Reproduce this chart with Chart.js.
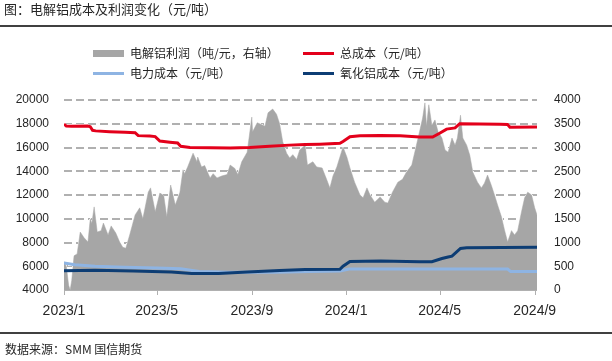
<!DOCTYPE html>
<html lang="zh">
<head>
<meta charset="UTF-8">
<title>电解铝成本及利润变化</title>
<script src="https://cdn.jsdelivr.net/npm/chart.js"></script>
<style>
  * { margin: 0; padding: 0; box-sizing: border-box; }
  body { background: #fff; font-family: 'Noto Sans CJK SC', sans-serif; color: #262626; }
  #wrap { position: relative; width: 612px; height: 361px; overflow: hidden; }
  #chart { position: absolute; left: 0; top: 0; }
  .title { position: absolute; left: 4px; top: 0; font-size: 13px; line-height: 18px; }
  .rule { position: absolute; left: 0; width: 612px; height: 2px; background: #404040; }
  .legend .item { position: absolute; display: flex; align-items: center; white-space: nowrap; font-size: 12px; line-height: 16px; }
  .legend .sw { width: 31px; margin-right: 6px; }
  .source { position: absolute; left: 5px; top: 341px; font-size: 12px; line-height: 16px; }
</style>
</head>
<body>
<div id="wrap">
  <canvas id="chart" width="612" height="361"></canvas>
  <div class="title">图：电解铝成本及利润变化（元/吨）</div>
  <div class="rule" style="top:25px"></div>
  <div class="legend" id="legend"></div>
  <div class="rule" style="top:332px"></div>
  <div class="source">数据来源：SMM 国信期货</div>
</div>
<script>
// series labels
const seriesNames = ['电解铝利润（吨/元，右轴）', '总成本（元/吨）', '电力成本（元/吨）', '氧化铝成本（元/吨）'];

// x axis ticks
const tickDates = ['2023-01-01', '2023-05-01', '2023-09-01', '2024-01-01', '2024-05-01', '2024-09-01'];
const tickLabels = ['2023/1', '2023/5', '2023/9', '2024/1', '2024/5', '2024/9'];

// 电解铝利润 (right axis)
const profitDates = [
  '2023-01-01','2023-01-04','2023-01-07','2023-01-09','2023-01-11','2023-01-14','2023-01-18','2023-01-22','2023-01-27',
  '2023-02-01','2023-02-04','2023-02-06','2023-02-09','2023-02-13','2023-02-18','2023-02-21','2023-02-27',
  '2023-03-03','2023-03-09','2023-03-14','2023-03-18','2023-03-22','2023-03-27',
  '2023-04-03','2023-04-09','2023-04-13','2023-04-20','2023-04-23','2023-04-29',
  '2023-05-05','2023-05-10','2023-05-14','2023-05-19','2023-05-25','2023-05-31',
  '2023-06-04','2023-06-06','2023-06-10','2023-06-17','2023-06-22','2023-06-23','2023-06-28',
  '2023-07-02','2023-07-09','2023-07-13','2023-07-18','2023-07-24','2023-07-31',
  '2023-08-04','2023-08-10','2023-08-14','2023-08-19','2023-08-26',
  '2023-09-01','2023-09-02','2023-09-08','2023-09-14','2023-09-18','2023-09-22','2023-09-28',
  '2023-10-03','2023-10-07','2023-10-11','2023-10-16','2023-10-20','2023-10-24','2023-10-29',
  '2023-11-02','2023-11-09','2023-11-12','2023-11-19','2023-11-24',
  '2023-12-01','2023-12-07','2023-12-11','2023-12-15','2023-12-20','2023-12-24','2023-12-28',
  '2024-01-02','2024-01-06','2024-01-12','2024-01-19','2024-01-23','2024-01-28',
  '2024-02-01','2024-02-07','2024-02-14','2024-02-20','2024-02-24',
  '2024-03-01','2024-03-08','2024-03-14','2024-03-19','2024-03-26',
  '2024-04-01','2024-04-05','2024-04-09','2024-04-12','2024-04-14','2024-04-17','2024-04-21','2024-04-25','2024-04-29',
  '2024-05-04','2024-05-08','2024-05-12','2024-05-17','2024-05-21','2024-05-24','2024-05-28','2024-05-31',
  '2024-06-05','2024-06-09','2024-06-13','2024-06-19','2024-06-24','2024-06-28',
  '2024-07-02','2024-07-07','2024-07-11','2024-07-15','2024-07-20','2024-07-24','2024-07-28',
  '2024-08-02','2024-08-06','2024-08-10','2024-08-15','2024-08-19','2024-08-23','2024-08-28',
  '2024-09-01','2024-09-04'
];
const profitValues = [
  600, 500, 100, 0, 200, 720, 760, 1220, 1100,
  1010, 1500, 1400, 1750, 1220, 1250, 1410, 1160,
  1350, 1200, 1010, 900, 880, 1160,
  1580, 1730, 1500, 2060, 2150, 1650,
  2040, 1990, 1540, 2210, 1790, 2060,
  2530, 2450, 2590, 2880, 2700, 2800, 2590,
  2620, 2360, 2450, 2360, 2400, 2430,
  2630, 2560, 2430, 2700, 2900,
  3640, 3330, 3520, 3480, 3450, 3730, 3810,
  3700, 3500, 3120, 2880, 2780, 2850, 2750,
  2950, 3050, 2630, 2700, 2590,
  2570, 2320, 2150, 2400, 2590, 2800, 3010,
  2800, 2570, 2270, 2000, 1940, 2150,
  2000, 1850, 1960, 1850, 1830,
  2060, 2270, 2330, 2480, 2630,
  3050, 3330, 3620, 3940, 3450, 3900, 3470, 3580, 3330,
  3200, 2950, 2900, 3200, 3050, 3200, 3680, 3200,
  3050, 2840, 2480, 2270, 2150, 2250,
  2420, 2200, 2000, 1790, 1540, 1260, 1010,
  1250, 1160, 1250, 1650, 1940, 2060, 2000,
  1730, 1580
];

// 总成本
const totalDates = [
  '2023-01-01','2023-01-04','2023-01-11','2023-02-01','2023-02-04','2023-02-07','2023-02-11','2023-03-01','2023-03-21',
  '2023-04-03','2023-04-07','2023-04-22','2023-04-29','2023-05-05','2023-05-18','2023-05-28','2023-06-01','2023-06-13',
  '2023-07-09','2023-08-04','2023-08-29','2023-09-24','2023-10-20','2023-11-09','2023-11-28','2023-12-24','2023-12-28',
  '2024-01-06','2024-01-19','2024-02-14','2024-03-11','2024-04-05','2024-04-22','2024-05-01','2024-05-10','2024-05-21',
  '2024-05-27','2024-06-22','2024-07-18','2024-07-28','2024-07-31','2024-09-04'
];
const totalValues = [
  17970, 17800, 17780, 17800, 17750, 17450, 17400, 17330, 17280,
  17250, 17000, 16960, 16920, 16550, 16450, 16380, 16100, 16000,
  15970, 15950, 15990, 16100, 16200, 16250, 16280, 16350, 16500,
  16900, 16980, 17000, 16980, 16880, 16880, 17200, 17550, 17650,
  18000, 17980, 17950, 17930, 17700, 17720
];

// 电力成本
const powerDates = [
  '2023-01-01','2023-01-15','2023-02-10','2023-03-20','2023-05-01','2023-06-01','2023-06-25','2023-08-01',
  '2023-10-01','2023-11-15','2023-12-24','2024-01-05','2024-03-01','2024-07-28','2024-08-01','2024-09-04'
];
const powerValues = [
  6280, 6120, 6000, 5920, 5850, 5780, 5560, 5500,
  5500, 5550, 5600, 5760, 5770, 5770, 5550, 5550
];

// 氧化铝成本
const aluminaDates = [
  '2023-01-01','2023-02-10','2023-04-01','2023-05-20','2023-06-15','2023-07-20','2023-08-26','2023-10-07',
  '2023-11-09','2023-12-24','2023-12-28','2024-01-06','2024-02-15','2024-04-05','2024-04-21','2024-05-04',
  '2024-05-12','2024-05-17','2024-05-28','2024-06-05','2024-09-04'
];
const aluminaValues = [
  5620, 5660, 5600, 5520, 5400, 5400, 5520, 5650,
  5720, 5740, 6000, 6400, 6450, 6380, 6380, 6650,
  6780, 6850, 7500, 7560, 7590
];

const colors = ['#a6a6a6', '#e3001b', '#8eb4e3', '#0d3d74'];
const gridRGB = [0xb0, 0xb0, 0xb0];

function dayOf(s) {
  const [y, m, d] = s.split('-').map(Number);
  return (Date.UTC(y, m - 1, d) - Date.UTC(2023, 0, 1)) / 86400000;
}
function pts(dates, vals) {
  return dates.map((d, i) => ({ x: dayOf(d), y: vals[i] }));
}

// dashed grid rows (2px) at the left-axis ticks, only where nothing else is painted,
// plus the x axis line and its small tick marks
const dashGrid = {
  id: 'dashGrid',
  afterDraw(c) {
    const { ctx, chartArea: a, scales } = c;
    const left = Math.round(a.left), w = Math.round(a.right) - left;
    const paintRow = (y, dash) => {
      const img = ctx.getImageData(left, y, w, 1);
      const d = img.data;
      for (let i = 0; i < w; i++) {
        if (dash && (i % 12) >= 8) continue;
        const k = i * 4;
        const blank = d[k + 3] < 20 || (d[k] > 245 && d[k + 1] > 245 && d[k + 2] > 245);
        if (blank) { d[k] = gridRGB[0]; d[k + 1] = gridRGB[1]; d[k + 2] = gridRGB[2]; d[k + 3] = 255; }
      }
      ctx.putImageData(img, left, y);
    };
    scales.y.ticks.forEach(t => {
      if (t.value === scales.y.min) return;
      const py = Math.round(scales.y.getPixelForValue(t.value));
      paintRow(py - 1, true);
      paintRow(py, true);
    });
    const by = Math.round(a.bottom);
    paintRow(by, false);
    ctx.save();
    ctx.fillStyle = 'rgb(' + gridRGB.join(',') + ')';
    scales.x.ticks.forEach(t => {
      ctx.fillRect(Math.round(scales.x.getPixelForValue(t.value)), by, 1, 5);
    });
    ctx.restore();
  }
};

const tickFont = { family: "'Liberation Sans', Arial, sans-serif", size: 12 };

const chart = new Chart(document.getElementById('chart'), {
  type: 'line',
  data: {
    datasets: [
      { label: seriesNames[0], data: pts(profitDates, profitValues), yAxisID: 'y1', fill: 'origin',
        backgroundColor: colors[0], borderColor: colors[0], borderWidth: 0.5, pointRadius: 0, order: 10 },
      { label: seriesNames[1], data: pts(totalDates, totalValues), yAxisID: 'y', fill: false,
        borderColor: colors[1], borderWidth: 3, pointRadius: 0, order: 1 },
      { label: seriesNames[2], data: pts(powerDates, powerValues), yAxisID: 'y', fill: false,
        borderColor: colors[2], borderWidth: 3, pointRadius: 0, order: 3 },
      { label: seriesNames[3], data: pts(aluminaDates, aluminaValues), yAxisID: 'y', fill: false,
        borderColor: colors[3], borderWidth: 3, pointRadius: 0, order: 2 }
    ]
  },
  options: {
    responsive: false,
    animation: false,
    devicePixelRatio: 1,
    layout: { padding: { top: 100, left: 0, right: 0, bottom: 0 } },
    plugins: { legend: { display: false }, tooltip: { enabled: false } },
    scales: {
      x: {
        type: 'linear',
        min: 0,
        max: dayOf(profitDates[profitDates.length - 1]),
        afterBuildTicks: s => { s.ticks = tickDates.map(d => ({ value: dayOf(d) })); },
        afterFit: s => { s.height = 71; },
        ticks: {
          autoSkip: false, maxRotation: 0, padding: 5, color: '#262626',
          font: { family: "'Liberation Sans Narrow', 'Liberation Sans', Arial, sans-serif", size: 14 },
          callback: (v, i) => tickLabels[i]
        },
        grid: { display: false },
        border: { display: false }
      },
      y: {
        position: 'left',
        min: 4000, max: 20000,
        afterFit: s => { s.width = 64; },
        ticks: { stepSize: 2000, padding: 7, color: '#262626', font: tickFont, callback: v => String(v) },
        grid: { display: false },
        border: { display: false }
      },
      y1: {
        position: 'right',
        min: 0, max: 4000,
        afterFit: s => { s.width = 75; },
        ticks: { stepSize: 500, padding: 9, color: '#262626', font: tickFont, callback: v => String(v) },
        grid: { display: false },
        border: { display: false }
      }
    }
  },
  plugins: [dashGrid]
});

// legend laid out in two columns like the source figure
const legendPos = [[93, 45], [303, 45], [93, 65], [303, 65]];
const legendBox = document.getElementById('legend');
chart.data.datasets.forEach((ds, di) => {
  const item = document.createElement('div');
  item.className = 'item';
  item.style.left = legendPos[di][0] + 'px';
  item.style.top = legendPos[di][1] + 'px';
  const sw = document.createElement('span');
  sw.className = 'sw';
  sw.style.height = di === 0 ? '7px' : '3px';
  sw.style.background = di === 0 ? ds.backgroundColor : ds.borderColor;
  const tx = document.createElement('span');
  tx.textContent = ds.label;
  item.appendChild(sw);
  item.appendChild(tx);
  legendBox.appendChild(item);
});
</script>
</body>
</html>
